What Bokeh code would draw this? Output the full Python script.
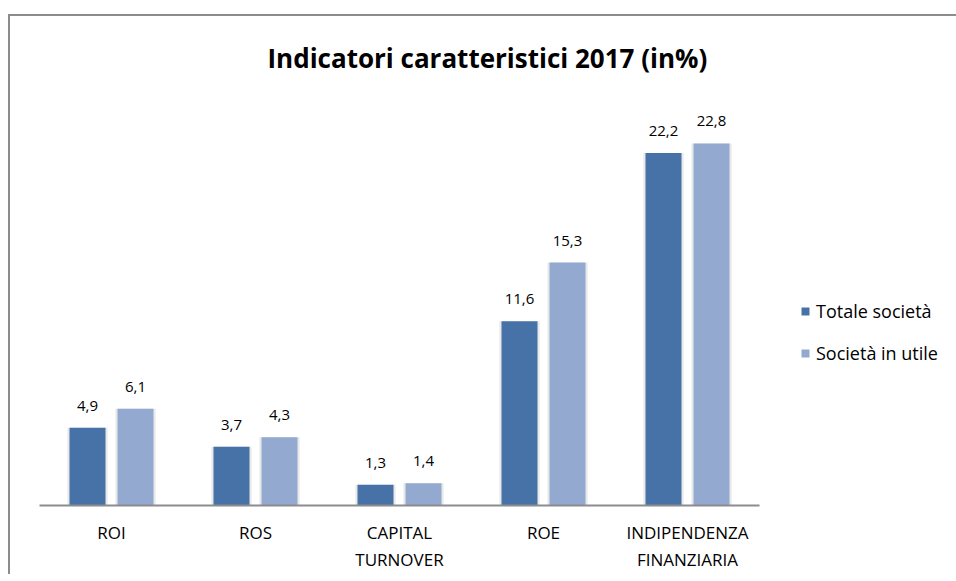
from bokeh.plotting import figure
from bokeh.models import ColumnDataSource, Range1d, FixedTicker, LabelSet, Legend, LegendItem
from bokeh.core.properties import value
from bokeh.embed import file_html
from bokeh.resources import INLINE

categories = ["ROI", "ROS", "CAPITAL\nTURNOVER", "ROE", "INDIPENDENZA\nFINANZIARIA"]
totale_societa = [4.9, 3.7, 1.3, 11.6, 22.2]
societa_in_utile = [6.1, 4.3, 1.4, 15.3, 22.8]
series_names = ["Totale società", "Società in utile"]
title_text = "Indicatori caratteristici 2017 (in%)"

FONT = "Open Sans"
DARK = "#4672A8"
LIGHT = "#94A9D0"
OFF = 1 / 6          # half distance between the two bars of a group
BW = 0.25            # bar width (category units)

n = len(categories)
centers = [i + 0.5 for i in range(n)]
src = ColumnDataSource(dict(
    x_tot=[c - OFF for c in centers],
    x_utl=[c + OFF for c in centers],
    tot=totale_societa,
    utl=societa_in_utile,
    tot_lbl=[f"{v:.1f}".replace(".", ",") for v in totale_societa],
    utl_lbl=[f"{v:.1f}".replace(".", ",") for v in societa_in_utile],
))

W, H = 956, 574
p = figure(
    x_range=Range1d(0, (W - 39) / 144),
    y_range=Range1d(0, 25),
    width=W, height=H,
    output_backend="svg", toolbar_location=None,
    min_border_left=39, min_border_right=0,
    min_border_top=108, min_border_bottom=H - 507,
    title=title_text,
)
p.border_fill_color = None
p.background_fill_color = None
p.styles = {
    "background": ("linear-gradient(#8c8c8c, #8c8c8c) 8px 14px / 2px 100% no-repeat, "
                   "linear-gradient(#8c8c8c, #8c8c8c) 8px 14px / 100% 2px no-repeat"),
}

p.title.align = "left"
p.title.offset = 228
p.title.text_font = FONT
p.title.text_font_size = "26px"
p.title.text_font_style = "bold"
p.title.text_color = "#000000"
p.title.standoff = 66

# soft shadows
for col_x, col_y in [("x_tot", "tot"), ("x_utl", "utl")]:
    p.vbar(x=col_x, top=col_y, width=BW + 0.03, bottom=0,
           source=src, fill_color="#cfcfcf", fill_alpha=0.45, line_color=None)

r1 = p.vbar(x="x_tot", top="tot", width=BW, bottom=0,
            source=src, fill_color=DARK, line_color=None)
r2 = p.vbar(x="x_utl", top="utl", width=BW, bottom=0,
            source=src, fill_color=LIGHT, line_color=None)

for col_x, col_y, lbl in [("x_tot", "tot", "tot_lbl"), ("x_utl", "utl", "utl_lbl")]:
    p.add_layout(LabelSet(x=col_x, y=col_y, text=lbl, source=src,
                          y_offset=22, text_align="center", text_baseline="middle",
                          text_font=value(FONT), text_font_size="15px",
                          text_color="#000000"))

legend = Legend(items=[LegendItem(label=series_names[0], renderers=[r1]),
                       LegendItem(label=series_names[1], renderers=[r2])],
                location=(761, 140), orientation="vertical",
                padding=0, margin=0, spacing=18, glyph_width=10, glyph_height=10,
                label_height=20, label_standoff=6,
                label_text_font=FONT, label_text_font_size="18px",
                label_text_color="#000000",
                border_line_color=None, background_fill_alpha=0)
p.add_layout(legend, "center")

p.yaxis.visible = False
p.xgrid.visible = False
p.ygrid.visible = False
p.outline_line_color = None
p.xaxis.bounds = (0, n)
p.xaxis.ticker = FixedTicker(ticks=centers)
p.xaxis.major_label_overrides = {c: lab for c, lab in zip(centers, categories)}
p.xaxis.axis_line_color = "#8c8c8c"
p.xaxis.axis_line_width = 2
p.xaxis.major_tick_line_color = None
p.xaxis.minor_tick_line_color = None
p.xaxis.major_tick_out = 0
p.xaxis.major_tick_in = 0
p.xaxis.axis_label_standoff = 0
p.xaxis.major_label_text_font = FONT
p.xaxis.major_label_text_font_size = "17px"
p.xaxis.major_label_text_color = "#000000"
p.xaxis.major_label_standoff = 15
p.xaxis.major_label_orientation = "horizontal"

open("out.html", "w").write(file_html(p, INLINE))
